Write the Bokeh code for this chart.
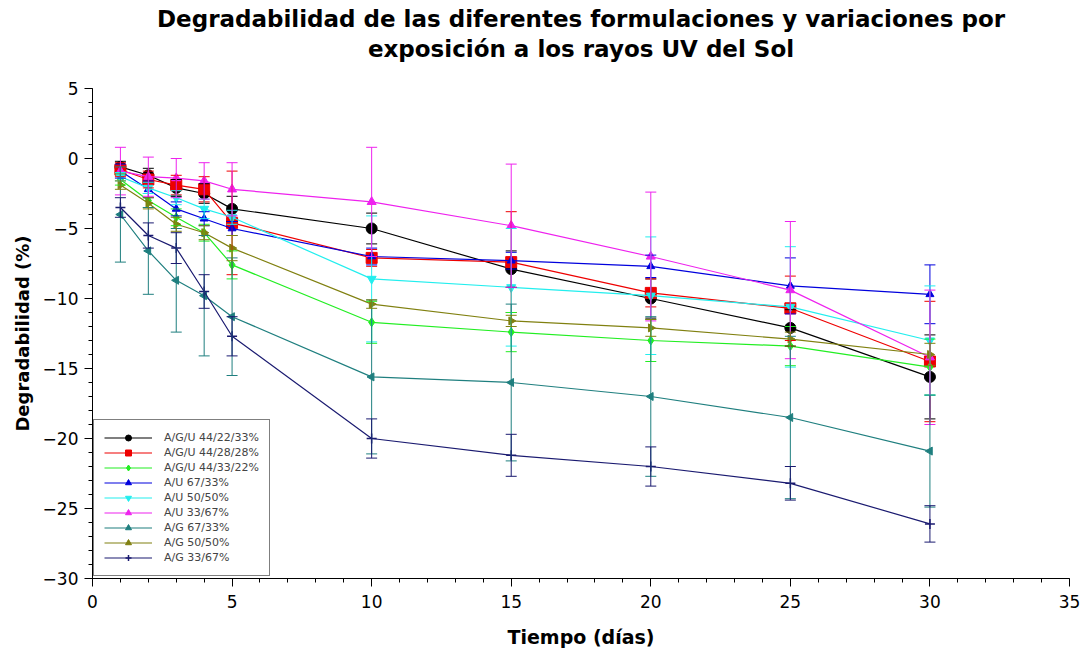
import math
from bokeh.plotting import figure
from bokeh.models import (ColumnDataSource, Whisker, TeeHead, Legend, LegendItem,
                          SingleIntervalTicker, Range1d, Title)
from bokeh.embed import file_html
from bokeh.resources import INLINE

# Tiempo de exposición (días)
dias = [1, 2, 3, 4, 5, 10, 15, 20, 25, 30]

# Degradabilidad media (%) y desviación de cada formulación
agu_44_22_33 = [-0.6, -1.2, -2.1, -2.5, -3.6, -5.0, -7.9, -10.0, -12.1, -15.6]
agu_44_22_33_err = [0.4, 0.5, 0.6, 0.7, 0.9, 1.1, 1.3, 1.4, 1.3, 3.0]

agu_44_28_28 = [-0.8, -1.5, -1.9, -2.2, -4.6, -7.1, -7.4, -9.6, -10.7, -14.5]
agu_44_28_28_err = [0.5, 0.6, 0.7, 0.9, 3.7, 0.6, 3.6, 1.0, 2.3, 4.3]

agu_44_33_22 = [-1.5, -3.0, -4.2, -5.3, -7.6, -11.7, -12.4, -13.0, -13.4, -14.9]
agu_44_33_22_err = [0.4, 0.5, 0.6, 0.6, 1.0, 1.5, 1.4, 1.5, 1.4, 2.0]

au_67_33 = [-0.9, -2.2, -3.6, -4.3, -5.0, -7.0, -7.3, -7.7, -9.1, -9.7]
au_67_33_err = [0.5, 0.6, 0.5, 0.5, 0.5, 0.6, 0.6, 0.8, 2.0, 2.1]

au_50_50 = [-1.3, -2.1, -2.8, -3.6, -4.2, -8.6, -9.2, -9.8, -10.6, -13.0]
au_50_50_err = [0.3, 0.4, 0.5, 0.7, 0.5, 4.5, 4.2, 4.2, 4.3, 3.9]

au_33_67 = [-0.9, -1.3, -1.4, -1.6, -2.2, -3.1, -4.8, -7.0, -9.4, -14.2]
au_33_67_err = [1.7, 1.4, 1.4, 1.3, 1.9, 3.9, 4.4, 4.6, 4.9, 4.8]

ag_67_33 = [-4.0, -6.6, -8.7, -9.8, -11.3, -15.6, -16.0, -17.0, -18.5, -20.9]
ag_67_33_err = [3.4, 3.1, 3.7, 4.3, 4.2, 5.5, 5.6, 5.7, 5.8, 4.0]

ag_50_50 = [-1.9, -3.2, -4.7, -5.3, -6.4, -10.4, -11.6, -12.1, -12.9, -14.0]
ag_50_50_err = [0.3, 0.4, 0.5, 0.5, 0.9, 0.3, 0.4, 0.6, 0.5, 0.8]

ag_33_67 = [-3.5, -5.5, -6.4, -9.5, -12.7, -20.0, -21.2, -22.0, -23.2, -26.1]
ag_33_67_err = [0.7, 0.9, 1.1, 1.2, 1.4, 1.4, 1.5, 1.4, 1.2, 1.3]

# (etiqueta, valores, error, color, marcador, tamaño, ángulo)
series = [
    ("A/G/U 44/22/33%", agu_44_22_33, agu_44_22_33_err, "#000000", "circle", 11, 0),
    ("A/G/U 44/28/28%", agu_44_28_28, agu_44_28_28_err, "#ee0000", "square", 11, 0),
    ("A/G/U 44/33/22%", agu_44_33_22, agu_44_33_22_err, "#22ee22", "diamond", 9, 0),
    ("A/U 67/33%", au_67_33, au_67_33_err, "#0000dd", "triangle", 8, 0),
    ("A/U 50/50%", au_50_50, au_50_50_err, "#22eeee", "inverted_triangle", 9, 0),
    ("A/U 33/67%", au_33_67, au_33_67_err, "#ee22ee", "triangle", 9, 0),
    ("A/G 67/33%", ag_67_33, ag_67_33_err, "#1f7f7f", "triangle", 8, math.pi / 2),
    ("A/G 50/50%", ag_50_50, ag_50_50_err, "#808010", "triangle", 8, -math.pi / 2),
    ("A/G 33/67%", ag_33_67, ag_33_67_err, "#1a1a70", "cross", 10, 0),
]

FONT = "DejaVu Sans"

p = figure(width=1085, height=657, title=None,
           x_range=Range1d(0, 35), y_range=Range1d(-30, 5),
           output_backend="svg", toolbar_location=None,
           min_border_left=92, min_border_right=16,
           min_border_top=88, min_border_bottom=79)

p.outline_line_color = None
p.xgrid.visible = False
p.ygrid.visible = False
p.background_fill_color = "white"
p.border_fill_color = "white"

items = []
for label, vals, err, color, marker, size, ang in series:
    src = ColumnDataSource(dict(
        x=dias, y=vals,
        upper=[v + e for v, e in zip(vals, err)],
        lower=[v - e for v, e in zip(vals, err)],
    ))
    w = Whisker(source=src, base="x", upper="upper", lower="lower",
                dimension="height", line_color=color, line_width=1, level="glyph",
                upper_head=TeeHead(size=11, line_color=color, line_width=1),
                lower_head=TeeHead(size=11, line_color=color, line_width=1))
    p.add_layout(w)
    ln = p.line("x", "y", source=src, line_color=color, line_width=1.2)
    sc = p.scatter("x", "y", source=src, marker=marker, size=size, angle=ang,
                   fill_color=color, line_color=color,
                   line_width=1.5 if marker == "cross" else 1)
    items.append(LegendItem(label=label, renderers=[ln, sc]))

legend = Legend(items=items, location=(1, 2), orientation="vertical",
                label_text_font=FONT, label_text_font_size="11px",
                glyph_width=48, glyph_height=15, label_height=15,
                spacing=0, padding=10, margin=0, label_standoff=12,
                border_line_color="black", border_line_width=1,
                background_fill_color="white", background_fill_alpha=1)
p.add_layout(legend)

# Ejes
for ax in (p.xaxis[0], p.yaxis[0]):
    ax.ticker = SingleIntervalTicker(interval=5, num_minor_ticks=5)
    ax.axis_line_color = "black"
    ax.axis_line_width = 1
    ax.major_tick_in = 0
    ax.major_tick_out = 8
    ax.minor_tick_in = 0
    ax.minor_tick_out = 4
    ax.major_tick_line_color = "black"
    ax.minor_tick_line_color = "black"
    ax.major_label_text_font = FONT
    ax.major_label_text_font_size = "17px"
    ax.major_label_text_color = "black"
    ax.axis_label_text_font = FONT
    ax.axis_label_text_font_style = "bold"
    ax.axis_label_text_color = "black"

p.xaxis.axis_label = "Tiempo (días)"
p.xaxis.axis_label_text_font_size = "19px"
p.xaxis.major_label_standoff = 8
p.xaxis.axis_label_standoff = 15

p.yaxis.axis_label = "Degradabilidad (%)"
p.yaxis.axis_label_text_font_size = "18px"
p.yaxis.major_label_standoff = 6
p.yaxis.axis_label_standoff = 7
p.yaxis.major_label_overrides = {v: "\u2212" + str(abs(v)) for v in range(-30, 0, 5)}

# Título en dos líneas centradas (la primera añadida queda junto al gráfico)
titulo_2 = Title(text="exposición a los rayos UV del Sol", align="center",
                 text_font=FONT, text_font_size="23px", text_font_style="bold",
                 text_color="black", standoff=54)
p.add_layout(titulo_2, "above")
titulo_1 = Title(text="Degradabilidad de las diferentes formulaciones y variaciones por",
                 align="center", text_font=FONT, text_font_size="23px",
                 text_font_style="bold", text_color="black", standoff=-51)
p.add_layout(titulo_1, "above")

open("out.html", "w").write(file_html(p, INLINE))
